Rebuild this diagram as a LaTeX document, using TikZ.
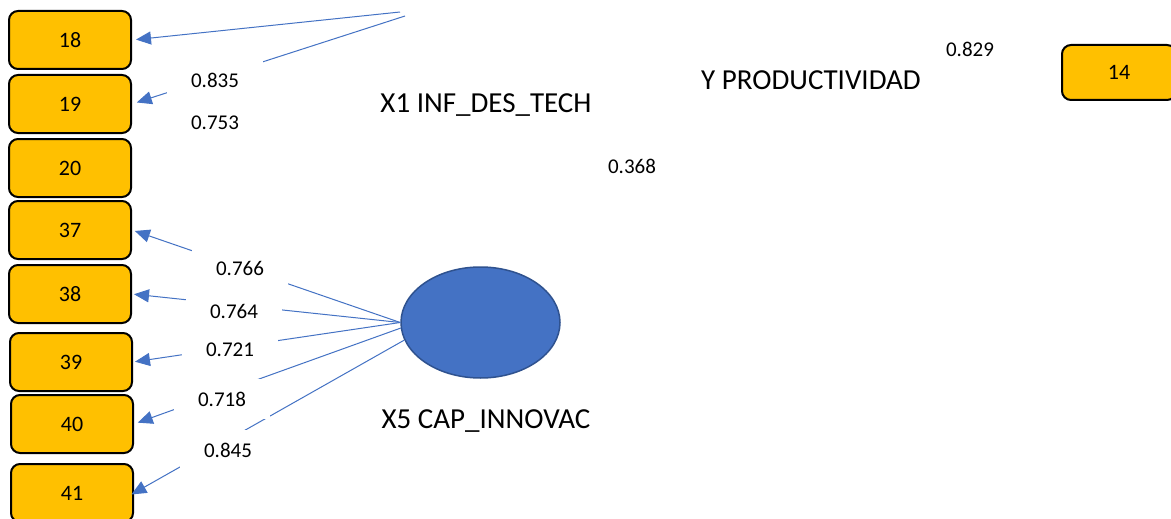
\documentclass[tikz,border=0pt]{standalone}
\usepackage{fontspec}
\setmainfont{Carlito}
\usetikzlibrary{shapes.geometric,arrows.meta}
\definecolor{boxfill}{HTML}{FFC000}
\definecolor{linkblue}{HTML}{4472C4}
\definecolor{ellborder}{HTML}{2F528F}
\begin{document}
\begin{tikzpicture}[x=1pt,y=-1pt,
  item/.style={draw=black, line width=2pt, fill=boxfill, rounded corners=9pt, minimum width=122pt, minimum height=58pt, inner sep=0pt, font=\fontsize{22}{26}\selectfont},
  link/.style={draw=linkblue, line width=1pt, -{Triangle[length=15pt,width=13pt]}},
  coef/.style={fill=white, minimum width=96pt, minimum height=40pt, inner sep=0pt, font=\fontsize{21}{25}\selectfont},
  plain/.style={inner sep=0pt, font=\fontsize{21}{25}\selectfont},
  title/.style={inner sep=0pt, font=\fontsize{29}{34}\selectfont},
  latent/.style={ellipse, draw=ellborder, line width=1.5pt, fill=linkblue, minimum width=159pt, minimum height=111pt, inner sep=0pt}]
\useasboundingbox (0,0) rectangle (1171,519);
\fill[white] (0,0) rectangle (1171,519);

% indicator boxes
\node[item] (b18) at (70,40) {18};
\node[item] (b19) at (70,104) {19};
\node[item] (b20) at (70,168) {20};
\node[item] (b37) at (70,230) {37};
\node[item] (b38) at (70,294) {38};
\node[item] (b39) at (71,362) {39};
\node[item] (b40) at (72,424) {40};
\node[item] (b41) at (72,493) {41};
\node[item, minimum width=114pt, minimum height=55pt] (b14) at (1119,72.5) {14};

% latent
\node[latent] (x5) at (480.5,322.5) {};
\coordinate (x1a) at (400,12);
\coordinate (x1b) at (405,16);

% links
\draw[link, shorten >=4pt] (x1a) -- (b18.east);
\draw[link, shorten >=5pt] (x1b) -- (b19.east);
\draw[link, shorten >=3pt] (x5.west) -- (b37.east);
\draw[link, shorten >=2pt] (x5.west) -- (b38.east);
\draw[link, shorten >=2pt] (x5.west) -- (b39.east);
\draw[link, shorten >=4pt] (x5.184) -- (b40.east);
\draw[link, shorten >=-3pt] (x5.193) -- (b41.east);

% coefficients
\node[coef] (c835) at (215,80) {0.835};
\node[coef] (c753) at (215,123) {0.753};
\node[coef] (c766) at (240,268) {0.766};
\node[coef] (c764) at (234,311) {0.764};
\node[coef] (c721) at (230,350) {0.721};
\node[coef] (c718) at (222,399) {0.718};
\node[coef] (c845) at (228,450) {0.845};
\node[plain] (c368) at (632,166) {0.368};
\node[plain] (c829) at (970,49) {0.829};

% titles
\node[title] (t1) at (486,105) {X1 INF\_DES\_TECH};
\node[title] (ty) at (811,80) {Y PRODUCTIVIDAD};
\node[title] (t5) at (486,421) {X5 CAP\_INNOVAC};
\end{tikzpicture}
\end{document}
